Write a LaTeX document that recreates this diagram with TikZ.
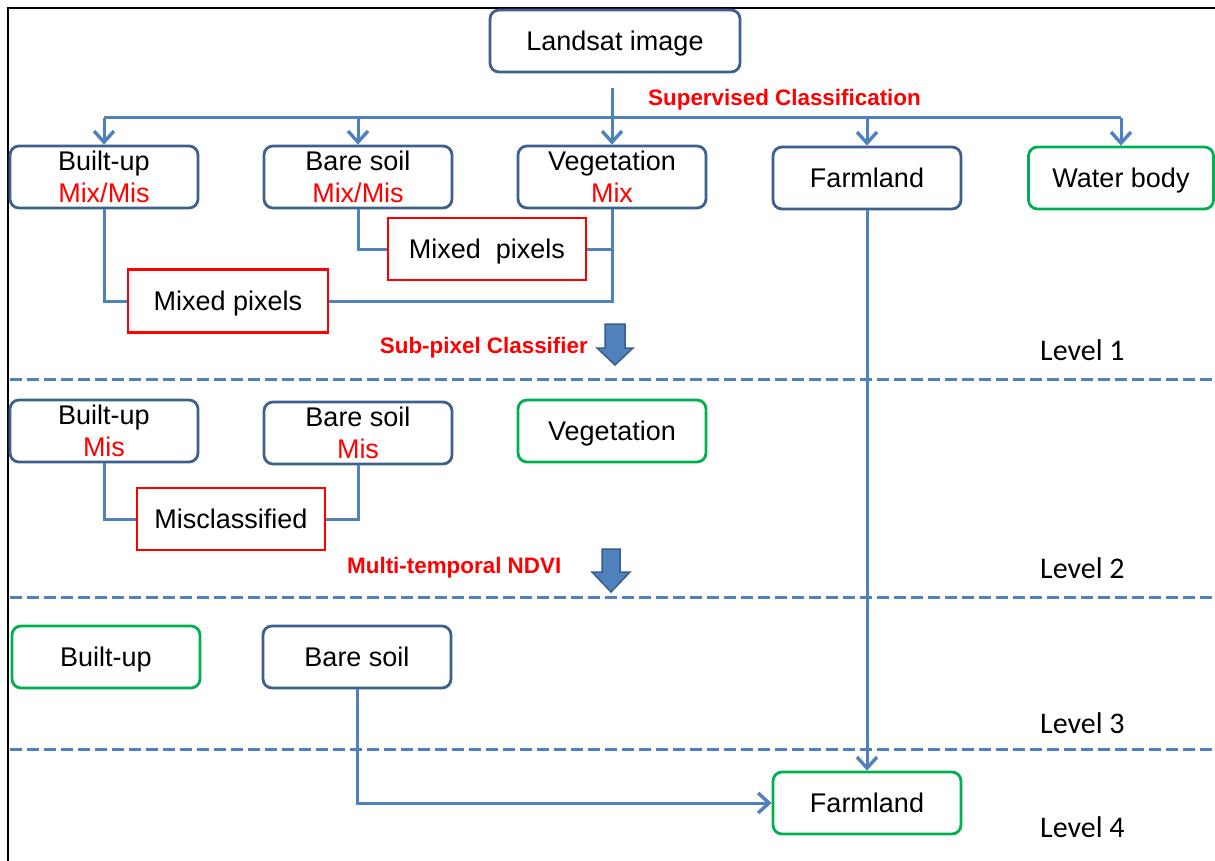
\documentclass[tikz,border=0pt]{standalone}
\usepackage{fontspec}
\setmainfont{Liberation Sans}
\newfontfamily\levelfont{Carlito}
\usetikzlibrary{arrows.meta}
\definecolor{boxblue}{RGB}{62,96,142}
\definecolor{linkblue}{RGB}{79,129,189}
\definecolor{okgreen}{RGB}{0,176,80}
\definecolor{errred}{RGB}{255,0,0}
\definecolor{arrowedge}{RGB}{56,93,138}
\newcommand\mynodefont{\fontsize{27}{32}\selectfont}
\begin{document}
\begin{tikzpicture}[x=1pt,y=-1pt,
  box/.style={draw=boxblue,line width=2.8pt,rounded corners=9pt,minimum width=188pt,minimum height=62pt,inner sep=0pt,align=center,font=\mynodefont},
  goodbox/.style={box,draw=okgreen},
  redbox/.style={draw=errred,line width=2.8pt,minimum width=198pt,minimum height=62pt,inner sep=0pt,align=center,font=\mynodefont},
  oneline/.style={text depth=0pt},
  link/.style={draw=linkblue,line width=3pt},
  tolink/.style={link,-{Straight Barb[length=11pt,width=20pt,line width=3.4pt]}},
  redlabel/.style={text=errred,font=\fontsize{22.4}{26}\selectfont\bfseries,inner sep=0pt},
  levellabel/.style={font=\levelfont\fontsize{30}{34}\selectfont,inner sep=0pt,anchor=base west},
  separator/.style={draw=linkblue,line width=3pt,dash pattern=on 12pt off 5pt},
  blockarrow/.style={fill=linkblue,draw=arrowedge,line width=1.5pt,line join=miter}
]
\useasboundingbox (0,0) rectangle (1215,861);
\fill[white] (0,0) rectangle (1215,861);
\draw[black,line width=2pt] (8,861) -- (8,8) -- (1215,8);

% level 1
\node[box,oneline,minimum width=250pt] (landsat) at (615,41) {Landsat image};
\node[box] (bu1) at (104,177) {Built-up\\\textcolor{errred}{Mix/Mis}};
\node[box] (bs1) at (358,177) {Bare soil\\\textcolor{errred}{Mix/Mis}};
\node[box] (veg1) at (612,177) {Vegetation\\\textcolor{errred}{Mix}};
\node[box,oneline] (farm1) at (867,178) {Farmland};
\node[goodbox,oneline,minimum width=185pt] (water) at (1121,178) {Water body};
\node[redbox,oneline] (mix1) at (487,249) {Mixed\ \ pixels};
\node[redbox,oneline,minimum width=200pt,minimum height=63pt] (mix2) at (228,301) {Mixed pixels};

\coordinate (split) at (612,88);
\coordinate (bus) at (612,118);
\draw[link] (split) -- (bus);
\draw[link] (bu1.north |- bus) -- (water.north |- bus);
\foreach \n in {bu1,bs1,veg1,farm1,water}
  \draw[tolink] (\n.north |- bus) -- (\n.north);
\node[redlabel,anchor=base west] (sup) at (648,106) {Supervised Classification};

\draw[link] (bu1.south) |- (mix2.west);
\draw[link] (bs1.south) |- (mix1.west);
\draw[link] (veg1.south) |- (mix2.east);
\draw[link] (mix1.east) -- (mix1.east -| veg1.south);

\node[redlabel,anchor=base east] (subpix) at (588,353) {Sub-pixel Classifier};
\path[blockarrow] (605,324) -- (625,324) -- (625,348) -- (633,348) -- (615,365) -- (597,348) -- (605,348) -- cycle;
\draw[separator] (10,379) -- (1215,379);
\node[levellabel] (lv1) at (1040,360) {Level 1};

% level 2
\node[box] (bu2) at (104,431) {Built-up\\\textcolor{errred}{Mis}};
\node[box] (bs2) at (358,433) {Bare soil\\\textcolor{errred}{Mis}};
\node[goodbox,oneline] (veg2) at (612,431) {Vegetation};
\node[redbox,oneline,minimum width=188pt] (miscl) at (231,519) {Misclassified};
\draw[link] (bu2.south) |- (miscl.west);
\draw[link] (bs2.south) |- (miscl.east);

\node[redlabel,anchor=base west] (ndvi) at (347,573) {Multi-temporal NDVI};
\path[blockarrow] (602,549) -- (620,549) -- (620,572) -- (630,572) -- (611,592) -- (592,572) -- (602,572) -- cycle;
\draw[separator] (10,597) -- (1215,597);
\node[levellabel] (lv2) at (1040,578) {Level 2};

% level 3
\node[goodbox,oneline] (bu3) at (106,657) {Built-up};
\node[box,oneline] (bs3) at (357,657) {Bare soil};
\draw[separator] (10,749) -- (1215,749);
\node[levellabel] (lv3) at (1040,733) {Level 3};

% level 4
\node[goodbox,oneline] (farm4) at (867,803) {Farmland};
\node[levellabel] (lv4) at (1040,837) {Level 4};
\draw[tolink] (bs3.south) |- (farm4.west);
\draw[tolink] (farm1.south) -- (farm4.north);
\end{tikzpicture}
\end{document}
